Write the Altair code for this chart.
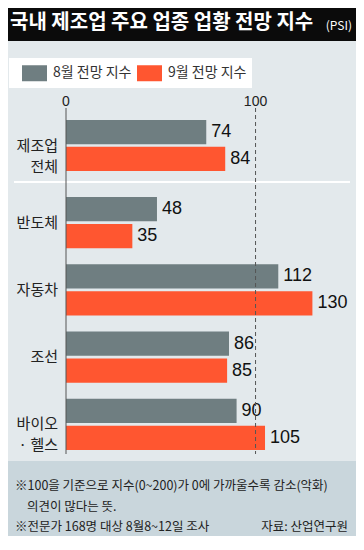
import altair as alt
import pandas as pd

# ---- data ----
categories = ["제조업\n전체", "반도체", "자동차", "조선", "바이오\n· 헬스"]
series = ["8월 전망 지수", "9월 전망 지수"]
aug_values = [74, 48, 112, 86, 90]
sep_values = [84, 35, 130, 85, 105]
ticks = [0, 100]
colors = ["#6f7e81", "#ff5630"]

title_text = "국내 제조업 주요 업종 업황 전망 지수"
title_sub = "(PSI)"
note_lines = [
    "※100을 기준으로 지수(0~200)가 0에 가까울수록 감소(악화)",
    "의견이 많다는 뜻.",
    "※전문가 168명 대상 8월8~12일 조사",
]
source_text = "자료: 산업연구원"

KFONT = "Noto Sans CJK KR"
NFONT = "Liberation Sans"

df = pd.DataFrame({
    "업종": categories * 2,
    "구분": [series[0]] * len(categories) + [series[1]] * len(categories),
    "값": aug_values + sep_values,
})

one = pd.DataFrame({"k": [0]})

X = alt.X("값:Q", scale=alt.Scale(domain=[0, 153], nice=False, zero=True), axis=None)
color = alt.Color(
    "구분:N",
    scale=alt.Scale(domain=series, range=colors),
    legend=alt.Legend(
        title=None, orient="none", legendX=-44, legendY=52.5, direction="horizontal",
        symbolType="M-1,-0.64H1V0.64H-1Z", symbolSize=625, symbolStrokeWidth=0,
        symbolOpacity=1, labelFont=KFONT, labelFontSize=14, labelColor="#333333",
        labelOffset=6, columnPadding=5, padding=0,
    ),
)


def group_layer(cats, yrange, pin):
    d = df[df["업종"].isin(cats)]
    y = alt.Y("업종:N", scale=alt.Scale(domain=cats, range=yrange, paddingInner=pin, paddingOuter=0), axis=None)
    yoff = alt.YOffset("구분:N", scale=alt.Scale(domain=series, paddingInner=0.1, paddingOuter=0))
    base = alt.Chart(d)
    bars = base.mark_bar().encode(x=X, y=y, yOffset=yoff, color=color)
    vals = base.mark_text(align="left", baseline="middle", dx=5, font=NFONT, fontSize=18,
                          color="#111111").encode(x=X, y=y, yOffset=yoff, text="값:Q")
    labs = alt.Chart(pd.DataFrame({"업종": cats})).mark_text(
        align="right", baseline="middle", lineBreak="\n", lineHeight=21, font=KFONT,
        fontSize=15, color="#222222").encode(y=y, x=alt.value(-8), text="업종:N")
    return alt.layer(bars, vals, labs)


top_group = group_layer(categories[:1], [112, 163], 0)
rest_group = group_layer(categories[1:], [189, 442], 0.239)

title_bar = alt.Chart(one).mark_rect(color="#0b0b0b").encode(
    x=alt.value(-58), x2=alt.value(290), y=alt.value(0), y2=alt.value(33))
title_main = alt.Chart(one).mark_text(
    text=title_text, align="left", baseline="middle", font=KFONT, fontSize=20,
    fontWeight="bold", color="white").encode(x=alt.value(-56), y=alt.value(15))
title_psi = alt.Chart(one).mark_text(
    text=title_sub, align="right", baseline="middle", font=KFONT, fontSize=12,
    color="white").encode(x=alt.value(286), y=alt.value(18))

legend_box = alt.Chart(one).mark_rect(color="white").encode(
    x=alt.value(-57), x2=alt.value(186), y=alt.value(50), y2=alt.value(80))

tick_df = pd.DataFrame({"tick": ticks})
tick_labels = alt.Chart(tick_df).mark_text(
    align="center", baseline="middle", font=NFONT, fontSize=14, color="#222222").encode(
    x=alt.X("tick:Q", scale=alt.Scale(domain=[0, 153], nice=False)), y=alt.value(94),
    text="tick:Q")
zero_line = alt.Chart(one).mark_rule(color="#555555", strokeWidth=1).encode(
    x=alt.X(datum=ticks[0]), y=alt.value(100), y2=alt.value(446))
hundred_line = alt.Chart(one).mark_rule(color="#555555", strokeWidth=1, strokeDash=[4, 3]).encode(
    x=alt.X(datum=ticks[1]), y=alt.value(100), y2=alt.value(446))

separator = alt.Chart(one).mark_rule(color="white", strokeWidth=2).encode(
    x=alt.value(-52), x2=alt.value(284), y=alt.value(174))

footer_bg = alt.Chart(one).mark_rect(color="#c9d6dc").encode(
    x=alt.value(-58), x2=alt.value(290), y=alt.value(453), y2=alt.value(528))

note_1 = alt.Chart(one).mark_text(text=note_lines[0], align="left", baseline="middle",
                                  font=KFONT, fontSize=12.5, color="#222222").encode(
    x=alt.value(-51), y=alt.value(478))
note_2 = alt.Chart(one).mark_text(text=note_lines[1], align="left", baseline="middle",
                                  font=KFONT, fontSize=12.5, color="#222222").encode(
    x=alt.value(-39), y=alt.value(499))
note_3 = alt.Chart(one).mark_text(text=note_lines[2], align="left", baseline="middle",
                                  font=KFONT, fontSize=12.5, color="#222222").encode(
    x=alt.value(-51), y=alt.value(519))
source = alt.Chart(one).mark_text(text=source_text, align="right", baseline="middle",
                                  font=KFONT, fontSize=12.5, color="#222222").encode(
    x=alt.value(282), y=alt.value(519))

chart = alt.layer(
    title_bar, title_main, title_psi, legend_box, footer_bg, separator,
    top_group, rest_group,
    zero_line, hundred_line, tick_labels,
    note_1, note_2, note_3, source,
).resolve_scale(y="independent", yOffset="independent").properties(
    width=290, height=528,
    padding={"left": 58, "top": 0, "right": 0, "bottom": 0},
    autosize=alt.AutoSizeParams(type="none"),
    background="#e3e9ec",
).configure_view(stroke=None)

chart.save("out.html", embed_options={"renderer": "svg", "actions": False})
